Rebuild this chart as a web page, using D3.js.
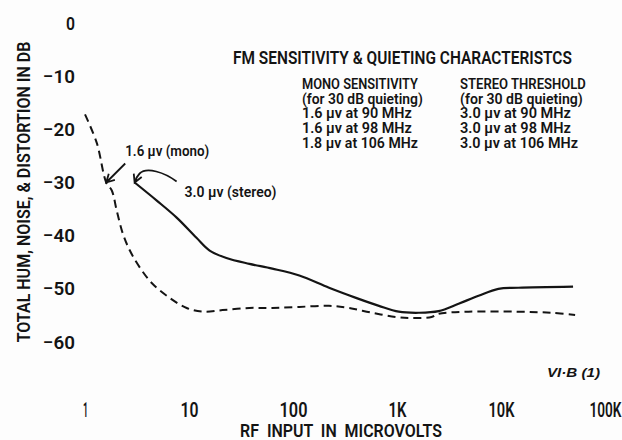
<!DOCTYPE html>
<html>
<head>
<meta charset="utf-8">
<script src="https://cdn.jsdelivr.net/npm/d3@7"></script>
<style>
  html, body { margin: 0; padding: 0; background: #fdfdfd; }
  svg { display: block; }
  .cond { font-family: Roboto, 'Liberation Sans', sans-serif; font-weight: 600; fill: #141414; }
</style>
</head>
<body>
<svg id="chart" width="622" height="440"></svg>
<script>
// Axis ticks
const xTickValues = [1, 10, 100, 1000, 10000, 100000];
const xTickLabels = ["1", "10", "100", "1K", "10K", "100K"];
const yTickValues = [0, -10, -20, -30, -40, -50, -60];

// Mono quieting curve (RF input in microvolts, dB)
const monoInput = [1.0, 1.30, 1.6, 1.81, 2.02, 2.31, 2.70, 3.37, 4.48, 6.52, 9.5, 13.5, 21.0, 38.1, 63.2, 115, 222, 345, 574, 975, 1390, 2150, 2510, 4870, 14700, 30400, 51600];
const monoDb    = [-17.2, -22.6, -30.0, -31.5, -35.3, -39.6, -42.8, -46.0, -49.1, -51.7, -53.6, -54.3, -54.0, -53.6, -53.6, -53.4, -53.2, -53.6, -54.5, -55.3, -55.5, -55.3, -54.7, -54.3, -54.3, -54.5, -54.9];

// Stereo quieting curve
const stereoInput = [3.0, 4.90, 7.61, 11.8, 15.8, 22.9, 38.1, 63.2, 115, 222, 403, 670, 1040, 1620, 2510, 3910, 6080, 9440, 14700, 49300];
const stereoDb    = [-30.0, -33.4, -36.6, -40.4, -42.8, -44.2, -45.3, -46.2, -47.5, -49.8, -51.7, -53.2, -54.3, -54.5, -54.2, -52.8, -51.3, -50.0, -49.8, -49.6];

// Sensitivity points called out on the curves
const monoSensitivity = { input: 1.6, db: -30, label: "1.6 \u00b5v (mono)" };
const stereoThreshold = { input: 3.0, db: -30, label: "3.0 \u00b5v (stereo)" };

// Texts
const chartTitle = "FM SENSITIVITY & QUIETING CHARACTERISTCS";
const monoColumn = ["MONO SENSITIVITY", "(for 30 dB quieting)", "1.6 \u00b5v at 90 MHz", "1.6 \u00b5v at 98 MHz", "1.8 \u00b5v at 106 MHz"];
const stereoColumn = ["STEREO THRESHOLD", "(for 30 dB quieting)", "3.0 \u00b5v at 90 MHz", "3.0 \u00b5v at 98 MHz", "3.0 \u00b5v at 106 MHz"];
const xTitle = "RF  INPUT  IN  MICROVOLTS";
const yTitle = "TOTAL HUM, NOISE, & DISTORTION IN DB";
const figureRef = "VI\u00b7B (1)";

const svg = d3.select("#chart");
const ink = "#141414";

// Condense a text horizontally to the given width (the typeset face is a condensed gothic).
// `pre` is any transform that places the text before the squeeze.
function squeeze(sel, w, pre) {
  sel.each(function () {
    const natural = this.getComputedTextLength();
    const k = natural > 0 ? w / natural : 1;
    d3.select(this).attr("transform", `${pre || ""} scale(${k},1)`);
  });
}

const x = d3.scaleLog().domain([1, 100000]).range([85, 605]);
const y = d3.scaleLinear().domain([0, -60]).range([23, 342]);

// Y axis: labels only
const yAxis = svg.append("g")
  .attr("transform", "translate(75,0)")
  .call(d3.axisLeft(y).tickValues(yTickValues).tickSize(0).tickPadding(0)
    .tickFormat(d => d === 0 ? "0" : "\u2212" + Math.abs(d)));
yAxis.select(".domain").remove();
yAxis.selectAll("text").attr("class", "cond").attr("font-size", 19).attr("fill", ink)
  .each(function (d) { squeeze(d3.select(this), d === 0 ? 9 : 32); });

// X axis: labels only
const xAxis = svg.append("g")
  .attr("transform", "translate(0,403)")
  .call(d3.axisBottom(x).tickValues(xTickValues).tickSize(0).tickPadding(0)
    .tickFormat((d, i) => xTickLabels[i]));
xAxis.select(".domain").remove();
const xLabelWidths = [5, 18, 28, 18, 26, 32];
xAxis.selectAll("text").attr("class", "cond").attr("font-size", 20).attr("fill", ink)
  .each(function (d, i) { squeeze(d3.select(this), xLabelWidths[i]); });

// Axis titles
svg.append("text").attr("class", "cond")
  .attr("text-anchor", "middle")
  .attr("font-size", 18.5)
  .style("white-space", "pre")
  .text(xTitle)
  .call(squeeze, 202, "translate(341,437)");

svg.append("text").attr("class", "cond")
  .attr("text-anchor", "middle")
  .attr("font-size", 18)
  .text(yTitle)
  .call(squeeze, 301, "translate(30,192) rotate(-90)");

// Curves
const line = d3.line()
  .x(d => x(d[0]))
  .y(d => y(d[1]))
  .curve(d3.curveCatmullRom.alpha(0.5));

svg.append("path")
  .datum(monoInput.map((v, i) => [v, monoDb[i]]))
  .attr("d", line)
  .attr("fill", "none").attr("stroke", ink)
  .attr("stroke-width", 2).attr("stroke-dasharray", "8,5");

svg.append("path")
  .datum(stereoInput.map((v, i) => [v, stereoDb[i]]))
  .attr("d", line)
  .attr("fill", "none").attr("stroke", ink)
  .attr("stroke-width", 2.2);

// Open arrowhead at a tip, given the direction it arrives from
function arrowHead(tx, ty, fromX, fromY) {
  const ang = Math.atan2(ty - fromY, tx - fromX);
  const len = 9, spread = 0.5;
  const a1 = ang + Math.PI - spread, a2 = ang + Math.PI + spread;
  return `M${tx + len * Math.cos(a1)},${ty + len * Math.sin(a1)}L${tx},${ty}L${tx + len * Math.cos(a2)},${ty + len * Math.sin(a2)}`;
}

// Mono callout: straight arrow
const mx = x(monoSensitivity.input), my = y(monoSensitivity.db);
svg.append("path")
  .attr("d", `M${mx + 19},${my - 19}L${mx + 1},${my - 1}` + arrowHead(mx, my, mx + 19, my - 19))
  .attr("fill", "none").attr("stroke", ink).attr("stroke-width", 1.8);
svg.append("text").attr("class", "cond")
  .attr("font-size", 14)
  .text(monoSensitivity.label)
  .call(squeeze, 84, `translate(${mx + 19},${my - 27})`);

// Stereo callout: curved arrow
const sx = x(stereoThreshold.input), sy = y(stereoThreshold.db);
svg.append("path")
  .attr("d", `M${sx + 42},${sy - 1}C${sx + 30},${sy - 10} ${sx + 12},${sy - 16} ${sx + 5},${sy - 9}C${sx + 2},${sy - 6} ${sx + 1},${sy - 3} ${sx},${sy}`
    + arrowHead(sx, sy, sx + 3, sy - 7))
  .attr("fill", "none").attr("stroke", ink).attr("stroke-width", 1.8);
svg.append("text").attr("class", "cond")
  .attr("font-size", 14)
  .text(stereoThreshold.label)
  .call(squeeze, 92, `translate(${sx + 50},${sy + 14})`);

// Title block
svg.append("text").attr("class", "cond")
  .attr("font-size", 17.5)
  .text(chartTitle)
  .call(squeeze, 339, "translate(233,64)");

const monoWidths = [116, 121, 110, 110, 116];
const stereoWidths = [126, 123, 111, 111, 118];
const lineY = d3.scaleLinear().domain([0, 4]).range([89.3, 147.5]);

svg.append("g").selectAll("text").data(monoColumn).join("text")
  .attr("class", "cond")
  .attr("font-size", 15)
  .text(d => d)
  .each(function (d, i) { squeeze(d3.select(this), monoWidths[i], `translate(302,${lineY(i)})`); });

svg.append("g").selectAll("text").data(stereoColumn).join("text")
  .attr("class", "cond")
  .attr("font-size", 15)
  .text(d => d)
  .each(function (d, i) { squeeze(d3.select(this), stereoWidths[i], `translate(460,${lineY(i)})`); });

// Figure reference
svg.append("text")
  .attr("font-family", "'Liberation Sans', Arial, sans-serif")
  .attr("font-style", "italic").attr("font-weight", 600).attr("font-size", 12)
  .attr("fill", ink)
  .text(figureRef)
  .call(squeeze, 53, "translate(547,377)");
</script>
</body>
</html>
